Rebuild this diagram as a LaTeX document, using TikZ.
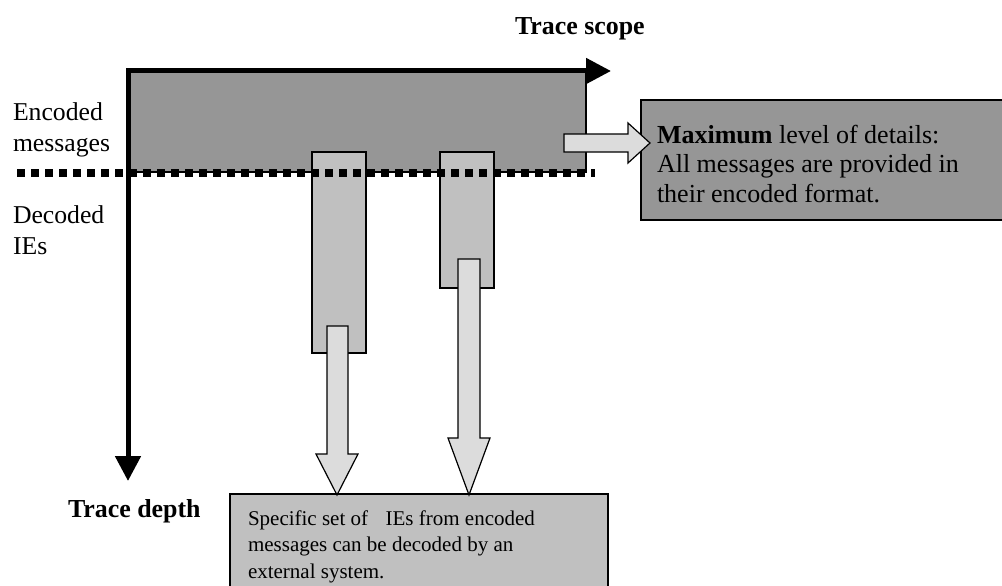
\documentclass[tikz,border=0pt]{standalone}
\usepackage{fontspec}
\setmainfont{Liberation Serif}
\usetikzlibrary{arrows.meta}
\definecolor{darkbox}{HTML}{969696}
\definecolor{midbox}{HTML}{C0C0C0}
\definecolor{lightarrow}{HTML}{DCDCDC}
\tikzset{
  big/.style={inner sep=0pt, outer sep=0pt, anchor=base west, align=left, font=\fontsize{25.7}{31}\selectfont},
  bigbold/.style={inner sep=0pt, outer sep=0pt, anchor=base west, font=\fontsize{25.9}{31}\selectfont\bfseries},
  small/.style={inner sep=0pt, outer sep=0pt, anchor=base west, align=left, font=\fontsize{21}{26.5}\selectfont},
  boxline/.style={draw=black, line width=1.3pt},
  blockarrow/.style={draw=black, line width=1.2pt, fill=lightarrow, line join=miter},
  axis/.style={line width=5pt, {Triangle[length=25pt,width=25pt]}-{Triangle[length=25pt,width=25pt]}},
  dots/.style={line width=7.5pt, dash pattern=on 8pt off 6pt}
}
\begin{document}
\begin{tikzpicture}[x=1pt,y=-1pt]
\useasboundingbox (0,0) rectangle (1002,586);
% coordinates
\coordinate (scopeend) at (611,71);
\coordinate (origin) at (128,71);
\coordinate (depthend) at (128,481);
\coordinate (dotstart) at (17,173);
\coordinate (dotend) at (595,173);
% encoded messages region
\path[fill=darkbox, boxline] (128,71) rectangle (586,172);
% columns
\path[fill=midbox, boxline] (312,152) rectangle (366,353);
\path[fill=midbox, boxline] (440,152) rectangle (494,288);
% dotted separation
\draw[dots] (dotstart) -- (dotend);
% right information box
\path[fill=darkbox, boxline] (641,100) rectangle (1006,220);
% bottom information box
\path[fill=midbox, boxline] (230,494) rectangle (608,590);
% block arrows
\draw[blockarrow] (327,326) -- (348,326) -- (348,454) -- (358,454) -- (337,495) -- (316,454) -- (327,454) -- cycle;
\draw[blockarrow] (458,259) -- (480,259) -- (480,438) -- (490,438) -- (469,495) -- (448,438) -- (458,438) -- cycle;
\draw[blockarrow] (564,134) -- (628,134) -- (628,123) -- (650,143) -- (628,163) -- (628,152) -- (564,152) -- cycle;
% axes
\draw[axis] (scopeend) -- (origin) -- (depthend);
% labels (base anchor = baseline of the last line)
\node[bigbold] (scope) at (515,35) {Trace scope};
\node[bigbold] (depth) at (68,517) {Trace depth};
\node[big] (enc) at (13,151) {Encoded\\messages};
\node[big] (dec) at (13,254) {Decoded\\IEs};
\node[inner sep=0pt, outer sep=0pt, anchor=base west, align=left, font=\fontsize{26}{29.5}\selectfont] (maxtext) at (657,202) {\textbf{Maximum} level of details:\\All messages are provided in\\their encoded format.};
\node[small] (spectext) at (248,578) {Specific set of\hspace{17.5pt}IEs from encoded\\messages can be decoded by an\\external system.};
\end{tikzpicture}
\end{document}
